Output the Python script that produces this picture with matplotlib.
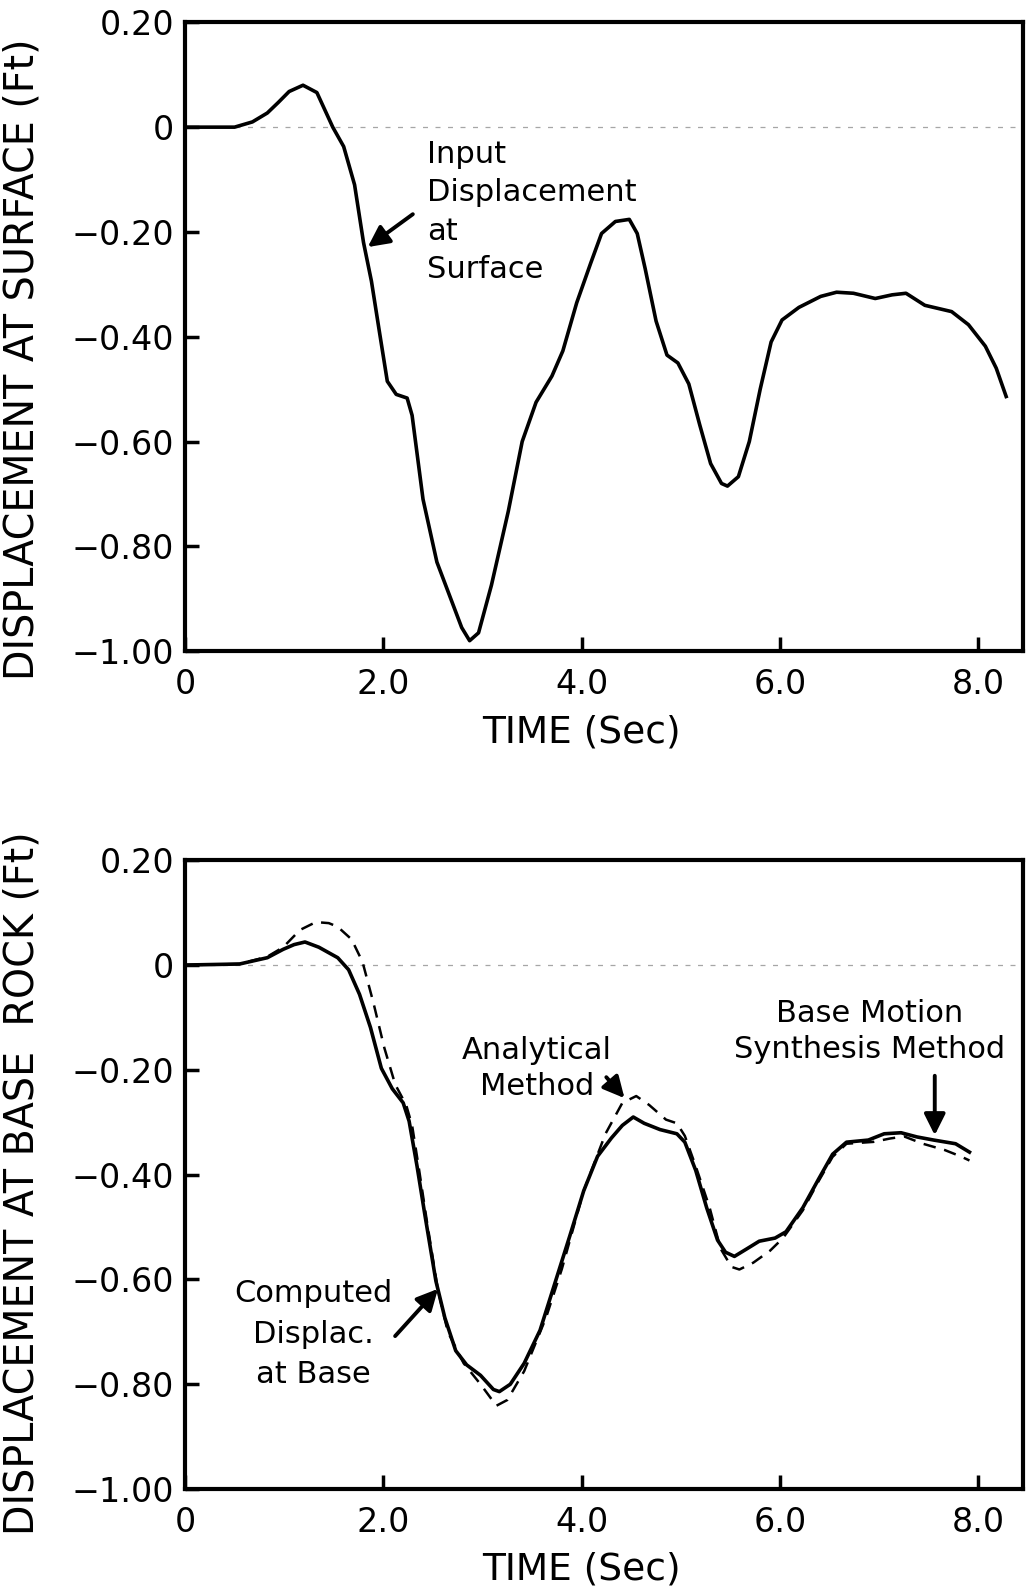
import matplotlib.pyplot as plt
import numpy as np

# surface input displacement (top) and base rock displacement (bottom)

t_surf = [0, 0.5, 0.68, 0.83, 0.94, 1.05, 1.19, 1.33, 1.49, 1.60, 1.71, 1.80, 1.88, 1.96,
          2.04, 2.13, 2.24, 2.29, 2.40, 2.54, 2.68, 2.79, 2.87, 2.96, 3.09, 3.26, 3.40,
          3.54, 3.70, 3.81, 3.95, 4.09, 4.20, 4.34, 4.48, 4.56, 4.64, 4.75, 4.86, 4.97,
          5.08, 5.19, 5.30, 5.41, 5.47, 5.58, 5.69, 5.80, 5.91, 6.02, 6.19, 6.41, 6.57,
          6.74, 6.96, 7.13, 7.27, 7.46, 7.73, 7.90, 8.07, 8.18, 8.28]
d_surf = [0, 0, 0.010, 0.027, 0.047, 0.068, 0.080, 0.066, 0.0, -0.037, -0.11, -0.22,
          -0.294, -0.39, -0.485, -0.51, -0.517, -0.55, -0.71, -0.83, -0.90, -0.955, -0.98,
          -0.965, -0.874, -0.733, -0.60, -0.525, -0.475, -0.427, -0.335, -0.26, -0.203,
          -0.18, -0.176, -0.203, -0.27, -0.37, -0.435, -0.45, -0.49, -0.568, -0.642,
          -0.68, -0.685, -0.667, -0.60, -0.50, -0.41, -0.368, -0.344, -0.323, -0.315,
          -0.317, -0.327, -0.32, -0.317, -0.34, -0.352, -0.377, -0.418, -0.46, -0.514]

t_synth = [0, 0.55, 0.83, 0.99, 1.10, 1.21, 1.35, 1.54, 1.65, 1.76, 1.87, 1.98, 2.09, 2.20,
           2.26, 2.34, 2.42, 2.53, 2.62, 2.73, 2.84, 2.98, 3.11, 3.17, 3.28, 3.42, 3.58,
           3.75, 3.88, 4.02, 4.16, 4.30, 4.41, 4.52, 4.63, 4.79, 4.96, 5.04, 5.15, 5.26,
           5.37, 5.45, 5.54, 5.67, 5.79, 5.95, 6.06, 6.23, 6.39, 6.53, 6.67, 6.89, 7.05,
           7.22, 7.38, 7.55, 7.77, 7.91]
d_synth = [0, 0.002, 0.014, 0.030, 0.039, 0.044, 0.034, 0.014, -0.009, -0.056, -0.119,
           -0.197, -0.236, -0.263, -0.298, -0.384, -0.478, -0.603, -0.673, -0.736, -0.763,
           -0.783, -0.81, -0.814, -0.80, -0.76, -0.697, -0.595, -0.517, -0.431, -0.365,
           -0.33, -0.306, -0.29, -0.302, -0.314, -0.322, -0.338, -0.392, -0.463, -0.525,
           -0.548, -0.556, -0.541, -0.527, -0.521, -0.509, -0.463, -0.408, -0.361, -0.338,
           -0.334, -0.322, -0.32, -0.328, -0.334, -0.341, -0.357]

t_anal = [0, 0.55, 0.83, 0.99, 1.16, 1.32, 1.45, 1.54, 1.68, 1.79, 1.90, 2.01, 2.12, 2.23,
          2.29, 2.36, 2.44, 2.55, 2.65, 2.81, 2.98, 3.14, 3.25, 3.42, 3.64, 3.80, 4.02,
          4.24, 4.41, 4.55, 4.68, 4.85, 4.96, 5.04, 5.15, 5.29, 5.40, 5.51, 5.59, 5.73,
          5.90, 6.03, 6.23, 6.39, 6.53, 6.67, 6.94, 7.11, 7.25, 7.44, 7.66, 7.82, 7.91]
d_anal = [0, 0.002, 0.016, 0.034, 0.067, 0.082, 0.080, 0.073, 0.049, 0.006, -0.072,
          -0.158, -0.228, -0.267, -0.306, -0.39, -0.49, -0.62, -0.70, -0.76, -0.80, -0.841,
          -0.83, -0.775, -0.673, -0.58, -0.431, -0.322, -0.263, -0.25, -0.267, -0.295,
          -0.302, -0.326, -0.384, -0.463, -0.541, -0.576, -0.581, -0.568, -0.545, -0.521,
          -0.468, -0.412, -0.366, -0.341, -0.3375, -0.331, -0.327, -0.341, -0.353, -0.365,
          -0.373]

yticks = [0.2, 0, -0.2, -0.4, -0.6, -0.8, -1.0]
ytick_labels = ['0.20', '0', '\u22120.20', '\u22120.40', '\u22120.60', '\u22120.80', '\u22121.00']
xticks = [0, 2, 4, 6, 8]
xtick_labels = ['0', '2.0', '4.0', '6.0', '8.0']

fig = plt.figure(figsize=(10.26, 15.96), dpi=100)
ax1 = fig.add_axes([0.1803, 0.592, 0.8168, 0.394])
ax2 = fig.add_axes([0.1803, 0.067, 0.8168, 0.394])

arrow = dict(arrowstyle='-|>', color='black', lw=2.8, mutation_scale=32)


def style(ax, ylabel, ymid):
    ax.set_xlim(0, 8.45)
    ax.set_ylim(-1.0, 0.2)
    ax.set_yticks(yticks)
    ax.set_yticklabels(ytick_labels)
    ax.set_xticks(xticks)
    ax.set_xticklabels(xtick_labels)
    ax.tick_params(direction='in', length=10, width=2.5, labelsize=24, pad=8)
    ax.tick_params(axis='x', pad=12)
    for s in ax.spines.values():
        s.set_linewidth(3)
    ax.axhline(0, color='0.65', lw=0.9, ls=(0, (4, 6)), zorder=0)
    ax.set_xlabel('TIME (Sec)', fontsize=27)
    ax.xaxis.set_label_coords(0.473, -0.1)
    ax.set_ylabel(ylabel, fontsize=28.5)
    ax.yaxis.set_label_coords(-0.17, ymid)


style(ax1, 'DISPLACEMENT AT SURFACE (Ft)', 0.465)
style(ax2, 'DISPLACEMENT AT BASE  ROCK (Ft)', 0.486)

ax1.plot(t_surf, d_surf, color='black', lw=2.6)
ax1.text(2.44, -0.025, 'Input\nDisplacement\nat\nSurface', fontsize=22,
         ha='left', va='top', linespacing=1.4)
ax1.annotate('', xy=(1.82, -0.232), xytext=(2.32, -0.163), arrowprops=arrow)

ax2.plot(t_anal, d_anal, color='black', lw=1.8, ls=(0, (5, 3.5)))
ax2.plot(t_synth, d_synth, color='black', lw=2.6)

ax2.text(3.55, -0.135, 'Analytical\nMethod', fontsize=22, ha='center', va='top',
         linespacing=1.3)
ax2.annotate('', xy=(4.45, -0.258), xytext=(4.23, -0.21), arrowprops=arrow)

ax2.text(6.90, -0.065, 'Base Motion\nSynthesis Method', fontsize=22, ha='center', va='top',
         linespacing=1.3)
ax2.annotate('', xy=(7.56, -0.33), xytext=(7.56, -0.206), arrowprops=arrow)

ax2.text(1.29, -0.60, 'Computed\nDisplac.\nat Base', fontsize=22, ha='center', va='top',
         linespacing=1.5)
ax2.annotate('', xy=(2.57, -0.614), xytext=(2.10, -0.712), arrowprops=arrow)

plt.savefig('out.png', dpi=100)
